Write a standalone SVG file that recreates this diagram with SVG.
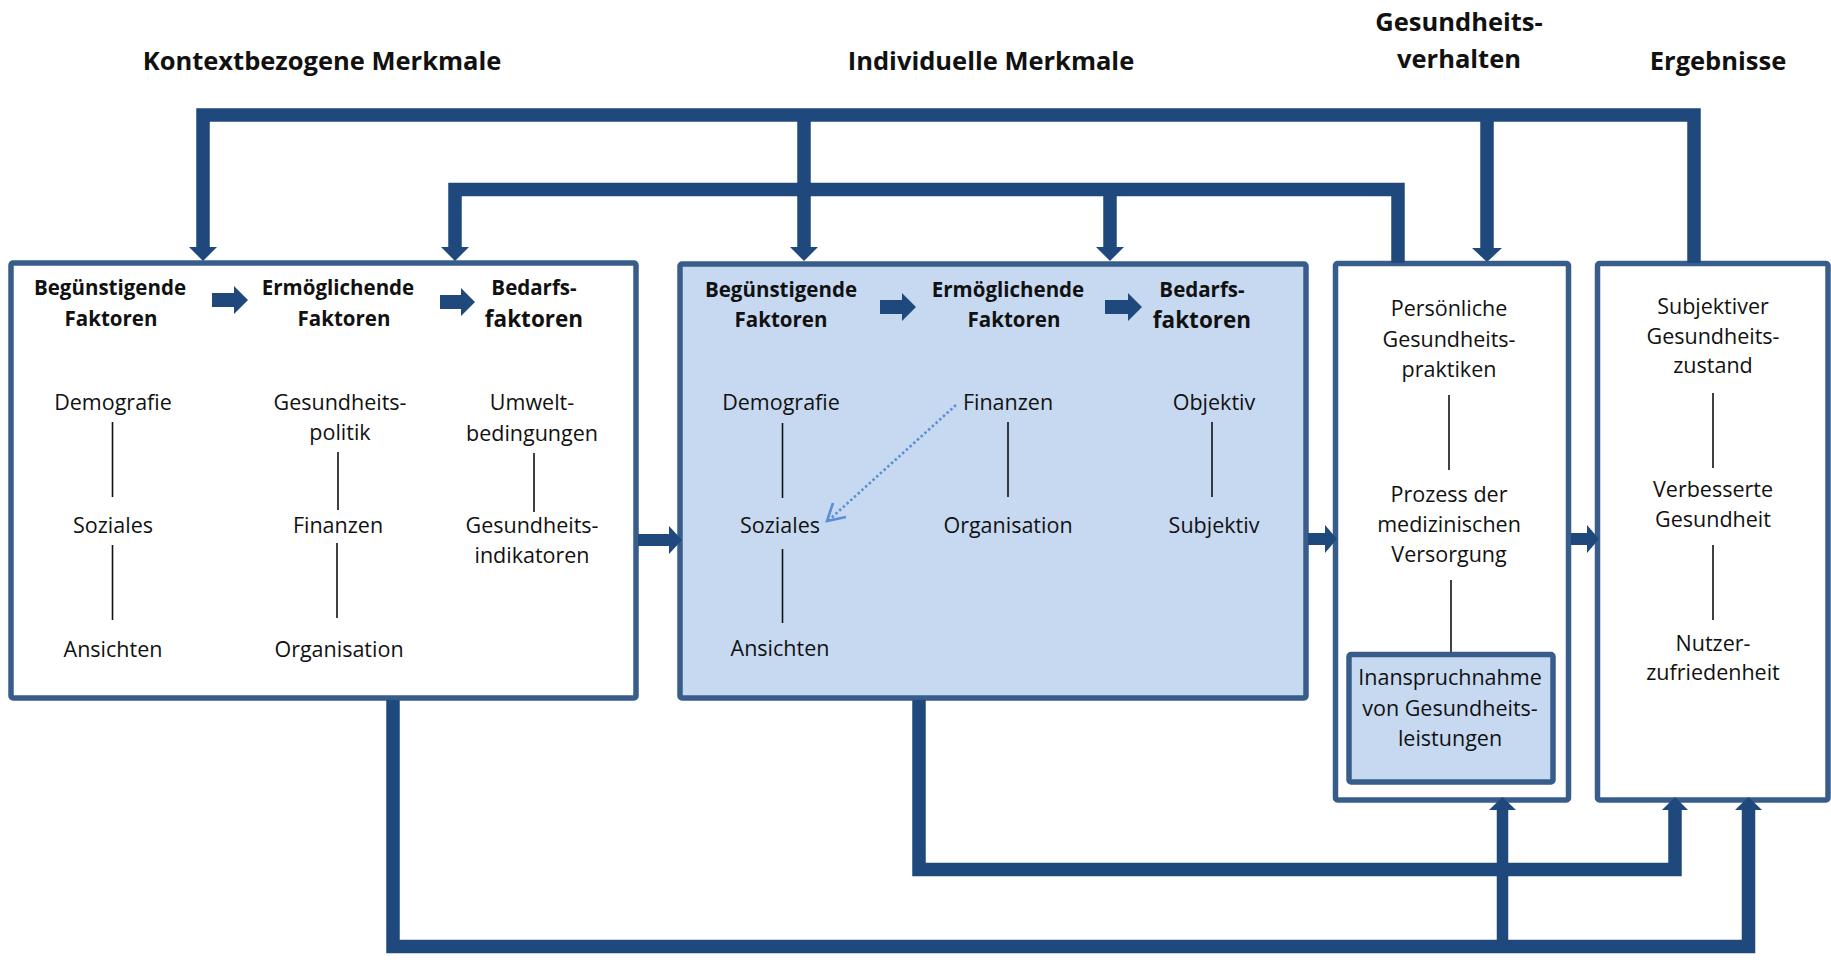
<svg xmlns="http://www.w3.org/2000/svg" width="1831" height="962" viewBox="0 0 1831 962">
<style>
  text { font-family: "Open Sans", "Noto Sans", "Liberation Sans", sans-serif; fill: #111; text-anchor: middle; }
  .title { font-size: 25.5px; font-weight: bold; }
  .head { font-size: 20.5px; font-weight: bold; }
  .headbig { font-size: 22.5px; font-weight: bold; }
  .item { font-size: 21.5px; }
  .box { fill: #ffffff; stroke: #385d8a; stroke-width: 5.5; }
  .boxblue { fill: #c6d9f1; stroke: #385d8a; stroke-width: 5.5; }
  .thin { stroke: #111; stroke-width: 1.6; fill: none; }
  .conn { fill: none; stroke: #1f497d; stroke-width: 13.5; stroke-linejoin: miter; stroke-linecap: butt; }
  .head-ar { fill: #1f497d; }
  .dotted { fill: none; stroke: #5b8ed6; stroke-width: 2.6; stroke-dasharray: 2.5 2.5; }
  .dothead { fill: none; stroke: #5b8ed6; stroke-width: 2.6; }
</style>

<g id="titles">
  <text class="title" x="322" y="70">Kontextbezogene Merkmale</text>
  <text class="title" x="991" y="70">Individuelle Merkmale</text>
  <text class="title" x="1459" y="31">Gesundheits-</text>
  <text class="title" x="1459" y="68">verhalten</text>
  <text class="title" x="1718" y="70">Ergebnisse</text>
</g>

<g id="box-kontext">
  <rect class="box" x="11" y="263" width="625" height="435" rx="2"/>
  <text class="head" x="110" y="295">Begünstigende</text>
  <text class="head" x="111" y="326">Faktoren</text>
  <polygon class="head-ar" points="212,293 234,293 234,286 248,300 234,314 234,307 212,307"/>
  <text class="head" x="338" y="295">Ermöglichende</text>
  <text class="head" x="344" y="326">Faktoren</text>
  <polygon class="head-ar" points="440,295 461,295 461,288 475,302 461,316 461,309 440,309"/>
  <text class="head" x="534" y="295">Bedarfs-</text>
  <text class="headbig" x="534" y="327">faktoren</text>

  <text class="item" x="113" y="410">Demografie</text>
  <line class="thin" x1="112.5" y1="422" x2="112.5" y2="497"/>
  <text class="item" x="113" y="533">Soziales</text>
  <line class="thin" x1="112.5" y1="545" x2="112.5" y2="620"/>
  <text class="item" x="113" y="657">Ansichten</text>

  <text class="item" x="340" y="410">Gesundheits-</text>
  <text class="item" x="340" y="440">politik</text>
  <line class="thin" x1="338" y1="452" x2="338" y2="510"/>
  <text class="item" x="338" y="533">Finanzen</text>
  <line class="thin" x1="337" y1="543" x2="337" y2="618"/>
  <text class="item" x="339" y="657">Organisation</text>

  <text class="item" x="532" y="410">Umwelt-</text>
  <text class="item" x="532" y="441">bedingungen</text>
  <line class="thin" x1="534" y1="453" x2="534" y2="512"/>
  <text class="item" x="532" y="533">Gesundheits-</text>
  <text class="item" x="532" y="563">indikatoren</text>
</g>

<g id="box-individuell">
  <rect class="boxblue" x="680" y="264" width="626" height="434" rx="2"/>
  <text class="head" x="781" y="297">Begünstigende</text>
  <text class="head" x="781" y="327">Faktoren</text>
  <polygon class="head-ar" points="880,300 902,300 902,293 916,307 902,321 902,314 880,314"/>
  <text class="head" x="1008" y="297">Ermöglichende</text>
  <text class="head" x="1014" y="327">Faktoren</text>
  <polygon class="head-ar" points="1105,300 1128,300 1128,293 1142,307 1128,321 1128,314 1105,314"/>
  <text class="head" x="1202" y="297">Bedarfs-</text>
  <text class="headbig" x="1202" y="328">faktoren</text>

  <text class="item" x="781" y="410">Demografie</text>
  <line class="thin" x1="782.5" y1="423" x2="782.5" y2="498"/>
  <text class="item" x="780" y="533">Soziales</text>
  <line class="thin" x1="782.5" y1="549" x2="782.5" y2="623"/>
  <text class="item" x="780" y="656">Ansichten</text>

  <text class="item" x="1008" y="410">Finanzen</text>
  <line class="thin" x1="1008" y1="422" x2="1008" y2="497"/>
  <text class="item" x="1008" y="533">Organisation</text>

  <text class="item" x="1214" y="410">Objektiv</text>
  <line class="thin" x1="1212" y1="422" x2="1212" y2="497"/>
  <text class="item" x="1214" y="533">Subjektiv</text>

  <line class="dotted" x1="956" y1="405" x2="829" y2="520"/>
  <polyline class="dothead" points="833,503 827,521 846,517"/>
</g>

<g id="box-verhalten">
  <rect class="box" x="1335.5" y="263.5" width="233" height="536.5" rx="2"/>
  <text class="item" x="1449" y="316">Persönliche</text>
  <text class="item" x="1449" y="347">Gesundheits-</text>
  <text class="item" x="1449" y="377">praktiken</text>
  <line class="thin" x1="1449" y1="395" x2="1449" y2="470"/>
  <text class="item" x="1449" y="502">Prozess der</text>
  <text class="item" x="1449" y="532">medizinischen</text>
  <text class="item" x="1449" y="562">Versorgung</text>
  <line class="thin" x1="1451" y1="580" x2="1451" y2="654"/>
  <g id="box-inanspruchnahme">
    <rect class="boxblue" x="1349" y="654.5" width="204" height="127.5" rx="2"/>
    <text class="item" x="1450" y="685">Inanspruchnahme</text>
    <text class="item" x="1450" y="716">von Gesundheits-</text>
    <text class="item" x="1450" y="746">leistungen</text>
  </g>
</g>

<g id="box-ergebnisse">
  <rect class="box" x="1597.5" y="263.5" width="230.5" height="536.5" rx="2"/>
  <text class="item" x="1713" y="314">Subjektiver</text>
  <text class="item" x="1713" y="344">Gesundheits-</text>
  <text class="item" x="1713" y="373">zustand</text>
  <line class="thin" x1="1713" y1="393" x2="1713" y2="468"/>
  <text class="item" x="1713" y="497">Verbesserte</text>
  <text class="item" x="1713" y="527">Gesundheit</text>
  <line class="thin" x1="1713" y1="545" x2="1713" y2="620"/>
  <text class="item" x="1713" y="651">Nutzer-</text>
  <text class="item" x="1713" y="680">zufriedenheit</text>
</g>

<g id="connectors">
  <!-- top outer loop -->
  <path class="conn" d="M203,248 V115 H1694 V263"/>
  <path class="conn" d="M804,115 V248"/>
  <path class="conn" d="M1487,115 V249"/>
  <!-- top inner loop -->
  <path class="conn" d="M455,248 V189.5 H1398 V263"/>
  <path class="conn" d="M1110,189.5 V248"/>
  <!-- arrowheads top -->
  <polygon class="head-ar" points="189,247 217,247 203,261"/>
  <polygon class="head-ar" points="441,247 469,247 455,261"/>
  <polygon class="head-ar" points="790,247 818,247 804,261"/>
  <polygon class="head-ar" points="1096,247 1124,247 1110,261"/>
  <polygon class="head-ar" points="1472,248 1502,248 1487,262"/>

  <!-- side arrows -->
  <rect class="head-ar" x="638" y="534" width="32" height="12"/>
  <polygon class="head-ar" points="669,526 669,554 682,540"/>
  <rect class="head-ar" x="1308" y="533" width="18" height="12"/>
  <polygon class="head-ar" points="1325,525 1325,553 1337,539"/>
  <rect class="head-ar" x="1571" y="533" width="17" height="12"/>
  <polygon class="head-ar" points="1587,525 1587,553 1599,539"/>

  <!-- bottom loops -->
  <path class="conn" d="M393,700 V946.5 H1748.5 V809"/>
  <path class="conn" style="stroke-width:11.5" d="M1502.5,946.5 V809"/>
  <path class="conn" d="M919,700 V869.5 H1675 V809"/>
  <polygon class="head-ar" points="1489,810 1516,810 1502.5,797"/>
  <polygon class="head-ar" points="1662,810 1688,810 1675,797"/>
  <polygon class="head-ar" points="1735,810 1762,810 1748.5,797"/>
</g>
</svg>
